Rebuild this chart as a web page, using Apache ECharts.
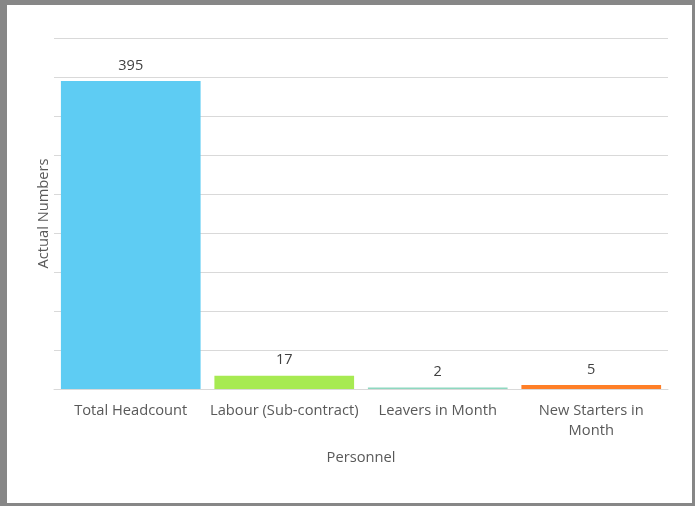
<!DOCTYPE html>
<html>
<head>
<meta charset="utf-8">
<script src="https://cdn.jsdelivr.net/npm/echarts@6/dist/echarts.min.js"></script>
<style>
html,body{margin:0;padding:0;background:#fff;}
#wrap{position:relative;width:695px;height:506px;}
#chart{position:absolute;left:0;top:0;width:695px;height:506px;}
#frame{position:absolute;left:0;top:0;width:695px;height:506px;box-sizing:border-box;border-style:solid;border-color:#878787;border-width:5px 3px 3px 7px;pointer-events:none;}
</style>
</head>
<body>
<div id="wrap"><div id="chart"></div><div id="frame"></div></div>
<script>
const categories = ['Total Headcount', 'Labour (Sub-contract)', 'Leavers in Month', 'New Starters in Month'];
const values = [395, 17, 2, 5];
const barColors = ['#5ECCF3', '#A7EA52', '#8ED8C0', '#FF7F27'];
const labelBreaks = {'New Starters in Month': 'New Starters in\nMonth'};
const yMin = 0, yMax = 450, yStep = 50;

const chart = echarts.init(document.getElementById('chart'));
const font = "'Open Sans', sans-serif";
chart.setOption({
  animation: false,
  grid: {left: 54, right: 27, top: 38, bottom: 117, containLabel: false},
  xAxis: {
    type: 'category',
    data: categories,
    name: 'Personnel',
    nameLocation: 'middle',
    nameGap: 61,
    nameTextStyle: {color: '#595959', fontSize: 14.7, fontFamily: font},
    axisLine: {show: true, lineStyle: {color: '#D9D9D9', width: 1}},
    axisTick: {show: false},
    axisLabel: {
      interval: 0, color: '#595959', fontSize: 14.7, fontFamily: font, margin: 12, lineHeight: 20,
      formatter: v => labelBreaks[v] || v
    }
  },
  yAxis: {
    type: 'value',
    min: yMin, max: yMax, interval: yStep,
    name: 'Actual Numbers',
    nameLocation: 'middle',
    nameGap: 3,
    nameTextStyle: {color: '#595959', fontSize: 14.7, fontFamily: font},
    axisLine: {show: false},
    axisTick: {show: false},
    axisLabel: {show: false},
    splitLine: {show: true, lineStyle: {color: '#D9D9D9', width: 1}}
  },
  series: [{
    type: 'bar',
    barCategoryGap: '9%',
    data: values.map((v, i) => ({value: v, itemStyle: {color: barColors[i]}})),
    label: {show: true, position: 'top', distance: 8, color: '#404040', fontSize: 14.5, fontFamily: font}
  }]
});
</script>
</body>
</html>
